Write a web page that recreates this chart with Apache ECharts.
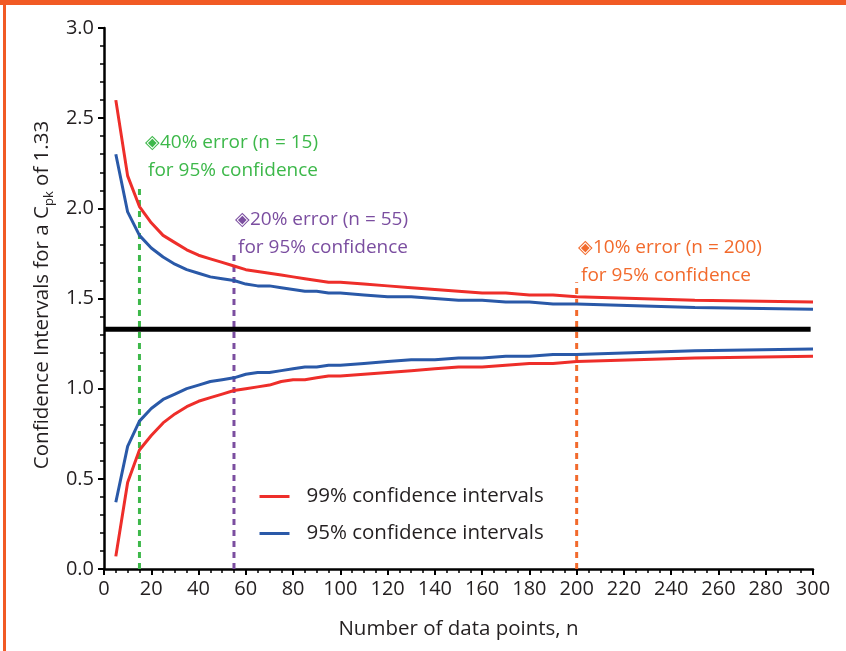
<!DOCTYPE html>
<html>
<head>
<meta charset="utf-8">
<script src="https://cdn.jsdelivr.net/npm/echarts@6/dist/echarts.min.js"></script>
<style>html,body{margin:0;padding:0;background:#fff}#c{width:846px;height:651px}</style>
</head>
<body>
<div id="c"></div>
<script>
const nPoints = [5,10,15,20,25,30,35,40,45,50,55,60,65,70,75,80,85,90,95,100,110,120,130,140,150,160,170,180,190,200,250,300];
const upper99 = [2.60,2.18,2.01,1.92,1.85,1.81,1.77,1.74,1.72,1.70,1.68,1.66,1.65,1.64,1.63,1.62,1.61,1.60,1.59,1.59,1.58,1.57,1.56,1.55,1.54,1.53,1.53,1.52,1.52,1.51,1.49,1.48];
const upper95 = [2.30,1.98,1.85,1.78,1.73,1.69,1.66,1.64,1.62,1.61,1.60,1.58,1.57,1.57,1.56,1.55,1.54,1.54,1.53,1.53,1.52,1.51,1.51,1.50,1.49,1.49,1.48,1.48,1.47,1.47,1.45,1.44];
const lower95 = [0.37,0.68,0.82,0.89,0.94,0.97,1.00,1.02,1.04,1.05,1.06,1.08,1.09,1.09,1.10,1.11,1.12,1.12,1.13,1.13,1.14,1.15,1.16,1.16,1.17,1.17,1.18,1.18,1.19,1.19,1.21,1.22];
const lower99 = [0.07,0.48,0.66,0.74,0.81,0.86,0.90,0.93,0.95,0.97,0.99,1.00,1.01,1.02,1.04,1.05,1.05,1.06,1.07,1.07,1.08,1.09,1.10,1.11,1.12,1.12,1.13,1.14,1.14,1.15,1.17,1.18];
const targetCpk = 1.33;
const targetEnd = 299;
const markerN = [15, 55, 200];
const markerTop = [2.13, 1.75, 1.59];
const markerLine1 = ['\u25C840% error (n = 15)', '\u25C820% error (n = 55)', '\u25C810% error (n = 200)'];
const markerLine2 = ['for 95% confidence', 'for 95% confidence', 'for 95% confidence'];
const seriesNames = ['99% confidence intervals', '95% confidence intervals'];
const xTitle = 'Number of data points, n';

const FONT = '"Open Sans", "Noto Sans", sans-serif';
const RED = '#EE2E2A', BLUE = '#2A59A8';
const MARK_COLORS = ['#3DB84A', '#7B4EA0', '#F26A2C'];
// annotation text layout (pixels): [x line1, y line1, x line2, y line2]
const NOTE_POS = [[145, 143, 148, 171], [235, 220, 238, 248], [578, 248, 581, 276]];

const zip = (a, b) => a.map((v, i) => [v, b[i]]);
const chart = echarts.init(document.getElementById('c'));

const series = [];
markerN.forEach((n, i) => {
  series.push({
    name: 'm' + i, type: 'line', symbol: 'none', silent: true,
    data: [[n, 0], [n, markerTop[i]]],
    lineStyle: { color: MARK_COLORS[i], width: 3, type: [6, 5] }, z: 2
  });
});
series.push({
  name: 'target', type: 'line', symbol: 'none', silent: true,
  data: [[0, targetCpk], [targetEnd, targetCpk]],
  lineStyle: { color: '#000', width: 5 }, z: 3
});
const lineDefs = [[seriesNames[0], upper99, RED], [seriesNames[0], lower99, RED], [seriesNames[1], upper95, BLUE], [seriesNames[1], lower95, BLUE]];
lineDefs.forEach(([name, vals, col]) => {
  series.push({
    name, type: 'line', symbol: 'none', showSymbol: false,
    data: zip(nPoints, vals), color: col,
    lineStyle: { color: col, width: 3 }, z: 4
  });
});

chart.setOption({
  animation: false,
  textStyle: { fontFamily: FONT },
  grid: { left: 104, right: 33, top: 28, bottom: 82 },
  legend: {
    data: seriesNames, orient: 'vertical', left: 258, top: 486, padding: 0,
    itemWidth: 30, itemHeight: 14, itemGap: 16,
    itemStyle: { opacity: 0 },
    lineStyle: { width: 3 },
    textStyle: { fontFamily: FONT, fontSize: 20.5, color: '#231F20', lineHeight: 20, padding: [0, 0, 0, 12] }
  },
  xAxis: {
    type: 'value', min: 0, max: 300, interval: 20,
    name: xTitle, nameLocation: 'middle', nameGap: 50,
    nameTextStyle: { fontFamily: FONT, fontSize: 20.5, color: '#231F20' },
    axisLine: { lineStyle: { color: '#000', width: 2.5 } },
    axisTick: { show: true, length: 6, lineStyle: { color: '#000', width: 2 } },
    minorTick: { show: true, splitNumber: 4, length: 4, lineStyle: { color: '#000', width: 1.5 } },
    axisLabel: { fontFamily: FONT, fontSize: 20, color: '#231F20', margin: 10 },
    splitLine: { show: false }
  },
  yAxis: {
    type: 'value', min: 0, max: 3, interval: 0.5,
    axisLine: { show: true, lineStyle: { color: '#000', width: 2.5 } },
    axisTick: { show: true, length: 6, lineStyle: { color: '#000', width: 2 } },
    minorTick: { show: true, splitNumber: 5, length: 4, lineStyle: { color: '#000', width: 1.5 } },
    axisLabel: { fontFamily: FONT, fontSize: 20, color: '#231F20', margin: 10, formatter: v => v.toFixed(1) },
    splitLine: { show: false }
  },
  series
});

const graphics = [
  { type: 'rect', shape: { x: 0, y: 0, width: 846, height: 5 }, style: { fill: '#F15A24' }, silent: true },
  { type: 'rect', shape: { x: 3, y: 0, width: 3, height: 651 }, style: { fill: '#F15A24' }, silent: true },
  {
    type: 'text', x: 42, y: 295, rotation: Math.PI / 2, silent: true,
    style: {
      text: '{a|Confidence Intervals for a C}{b|pk}{a| of 1.33}',
      align: 'center', verticalAlign: 'middle',
      rich: {
        a: { fontFamily: FONT, fontSize: 20.5, fill: '#231F20', lineHeight: 28 },
        b: { fontFamily: FONT, fontSize: 13, fill: '#231F20', verticalAlign: 'bottom' }
      }
    }
  }
];
markerN.forEach((n, i) => {
  const [x1, y1, x2, y2] = NOTE_POS[i];
  graphics.push({
    type: 'text', x: x1, y: y1, silent: true,
    style: { text: markerLine1[i], fill: MARK_COLORS[i], font: '19px ' + FONT, verticalAlign: 'middle' }
  });
  graphics.push({
    type: 'text', x: x2, y: y2, silent: true,
    style: { text: markerLine2[i], fill: MARK_COLORS[i], font: '19px ' + FONT, verticalAlign: 'middle' }
  });
});
chart.setOption({ graphic: graphics });
</script>
</body>
</html>
